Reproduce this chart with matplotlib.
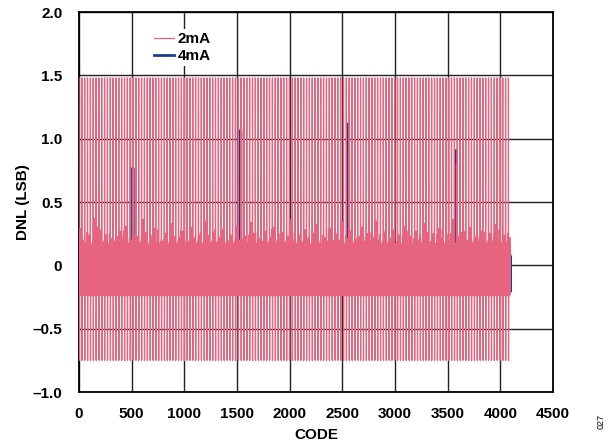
import numpy as np
import matplotlib
matplotlib.use("Agg")
import matplotlib.pyplot as plt

plt.rcParams['font.family'] = ['Liberation Sans', 'DejaVu Sans']

# ---- data ----
N_CODES = 4096

# one repeating stretch of DNL codes, 2mA (first two codes are the big up/down spikes)
pattern_2ma = [1.48, -0.75, 0.06, -0.22, 0.14, -0.18, 0.05, -0.24, 0.17, -0.20,
               0.08, -0.21, 0.11, 0.20, -0.19, -0.23, 0.06, -0.20, 0.15, -0.22,
               0.09, -0.17, 0.19, -0.24, 0.07, -0.20, 0.12]
# height of the noise bump inside each stretch, left to right
bumps_2ma = [0.29, 0.20, 0.18, 0.24, 0.15, 0.37, 0.30, 0.12, 0.18, 0.24,
             0.16, 0.21, 0.19, 0.13, 0.27, 0.22, 0.31, 0.14, 0.20, 0.09,
             0.23, 0.17, 0.36, 0.26, 0.13, 0.21, 0.29, 0.18, 0.10, 0.19,
             0.25, 0.16, 0.33, 0.20, 0.12, 0.22, 0.27, 0.15, 0.19, 0.30,
             0.21, 0.11, 0.24, 0.17, 0.35, 0.20, 0.14, 0.26, 0.18, 0.22,
             0.28, 0.13, 0.19, 0.24, 0.16, 0.31, 0.20, 0.12, 0.23, 0.18,
             0.34, 0.25, 0.15, 0.21, 0.19, 0.27, 0.11, 0.22, 0.30, 0.17,
             0.20, 0.26, 0.14, 0.23, 0.36, 0.19, 0.13, 0.24, 0.18, 0.28,
             0.21, 0.15, 0.25, 0.32, 0.17, 0.12, 0.22, 0.19, 0.29, 0.16,
             0.24, 0.20, 0.34, 0.14, 0.21, 0.27, 0.18, 0.11, 0.23, 0.30,
             0.19, 0.25, 0.15, 0.22, 0.35, 0.20, 0.13, 0.26, 0.18, 0.21,
             0.28, 0.16, 0.24, 0.12, 0.31, 0.19, 0.23, 0.17, 0.27, 0.20,
             0.14, 0.33, 0.22, 0.18, 0.25, 0.15, 0.29, 0.21, 0.12, 0.24,
             0.19, 0.36, 0.17, 0.23, 0.26, 0.14, 0.20, 0.30, 0.18, 0.22,
             0.13, 0.27, 0.21, 0.16, 0.25, 0.19, 0.32, 0.20, 0.15, 0.24,
             0.18, 0.22]
# second, smaller bump in each stretch
bumps2_2ma = [0.22, 0.14, 0.26, 0.18, 0.12, 0.24, 0.16, 0.28, 0.13, 0.20,
              0.25, 0.11, 0.19, 0.23, 0.15, 0.27, 0.12, 0.21, 0.17, 0.24]

# 4mA: small noise, mostly hidden under the 2mA trace
pattern_4ma = [0.07, -0.20, 0.05, -0.22, 0.08, -0.16, 0.04, -0.21, 0.06, -0.19,
               0.08, -0.22, 0.05, 0.09, -0.18, -0.21, 0.07, -0.20, 0.04, -0.23,
               0.06, -0.18, 0.08, -0.21, 0.05, -0.19, 0.07]

# major carry codes
major_codes = [512, 1536, 2560, 3584]
major_2ma = [0.69, 0.92, 0.92, 0.80]
major_4ma = [0.77, 1.07, 1.12, 0.91]

xticks = [0, 500, 1000, 1500, 2000, 2500, 3000, 3500, 4000, 4500]
yticks = [-1.0, -0.5, 0, 0.5, 1.0, 1.5, 2.0]
ytick_labels = ['\u20131.0', '\u20130.5', '0', '0.5', '1.0', '1.5', '2.0']

BUMP_IDX = 13
BUMP2_IDX = 20

codes = np.arange(N_CODES)
period = len(pattern_2ma)
reps = N_CODES // period + 1

dnl_2ma = np.tile(pattern_2ma, reps)[:N_CODES].astype(float)
bump_idx = np.arange(BUMP_IDX, N_CODES, period)
dnl_2ma[bump_idx] = np.array(bumps_2ma)[:len(bump_idx)]
bump2_idx = np.arange(BUMP2_IDX, N_CODES, period)
dnl_2ma[bump2_idx] = np.tile(bumps2_2ma, reps)[:len(bump2_idx)]
dnl_4ma = np.tile(pattern_4ma, reps)[:N_CODES].astype(float)
dnl_2ma[major_codes] = major_2ma
dnl_4ma[major_codes] = major_4ma

PINK = '#E6647E'
BLUE = '#1E3A8A'

fig = plt.figure(figsize=(6.15, 4.44), dpi=100)
ax = fig.add_axes([79 / 615, 1 - 392 / 444, (553 - 79) / 615, (392 - 12) / 444])

ax.plot(codes, dnl_4ma, color=BLUE, lw=2.0, label='4mA', zorder=2)
ax.plot(codes, dnl_2ma, color=PINK, lw=0.9, label='2mA', zorder=3)

ax.set_xlim(0, 4500)
ax.set_ylim(-1.0, 2.0)
ax.set_xticks(xticks)
ax.set_yticks(yticks)
ax.set_yticklabels(ytick_labels)
ax.tick_params(axis='y', length=0, labelsize=11, pad=12)
ax.tick_params(axis='x', length=0, labelsize=11, pad=11)
for lab in ax.get_xticklabels() + ax.get_yticklabels():
    lab.set_fontweight('bold')

ax.set_axisbelow(True)
ax.grid(True, color='#222222', lw=1.0)
for sp in ax.spines.values():
    sp.set_linewidth(1.3)
    sp.set_color('black')

ax.set_xlabel('CODE', fontsize=11, fontweight='bold', labelpad=5)
ax.set_ylabel('DNL (LSB)', fontsize=11, fontweight='bold', labelpad=1.5)

handles, labels = ax.get_legend_handles_labels()
leg = ax.legend(handles[::-1], labels[::-1], loc='upper left',
                bbox_to_anchor=(0.135, 0.975), frameon=True, fancybox=False,
                edgecolor='none', facecolor='white', framealpha=1,
                prop={'weight': 'bold', 'size': 11}, handlelength=1.3,
                handletextpad=0.25, labelspacing=0.2, borderpad=0.2)

fig.text(601 / 615, 1 - 421 / 444, '027', rotation=90, fontsize=6.5,
         ha='center', va='center')

fig.savefig('out.png', dpi=100)
